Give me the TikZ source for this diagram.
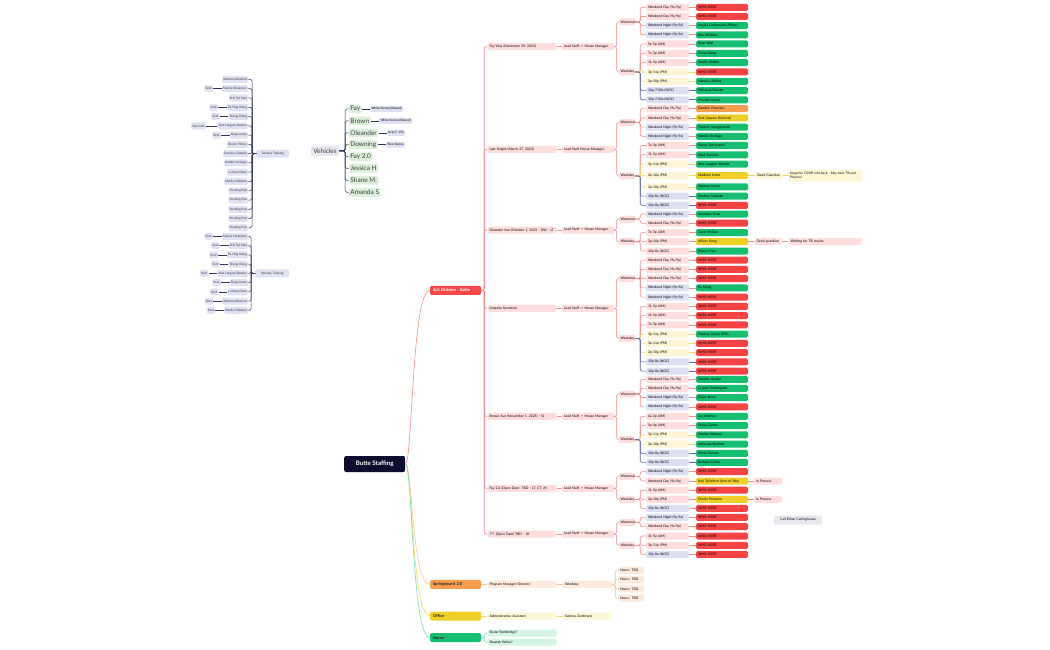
\documentclass[tikz,border=0pt]{standalone}
\usepackage{fontspec}
\setmainfont{Lato}
\usetikzlibrary{positioning}

\definecolor{navy}{RGB}{13,12,46}
\definecolor{slsred}{RGB}{242,72,72}
\definecolor{whored}{RGB}{246,68,68}
\definecolor{hiregreen}{RGB}{22,190,112}
\definecolor{gold}{RGB}{240,208,40}
\definecolor{orng}{RGB}{246,158,78}
\definecolor{pinkl}{RGB}{255,221,221}
\definecolor{lavl}{RGB}{221,223,243}
\definecolor{yell}{RGB}{255,246,214}
\definecolor{orgl}{RGB}{253,234,220}
\definecolor{grnl}{RGB}{212,244,228}
\definecolor{grayl}{RGB}{232,232,240}
\definecolor{lavt}{RGB}{224,225,242}
\definecolor{vgreen}{RGB}{218,240,218}
\definecolor{redline}{RGB}{245,140,140}
\definecolor{yelline}{RGB}{246,216,100}
\definecolor{nocline}{RGB}{96,100,170}
\definecolor{orgline}{RGB}{248,196,150}
\definecolor{grnline}{RGB}{120,220,170}
\definecolor{inkline}{RGB}{50,50,90}

\tikzset{
  tiny/.style={font=\fontsize{3.4}{4}\selectfont, inner xsep=2pt, inner ysep=0pt,
    minimum height=7pt, rounded corners=1.5pt, align=left},
  site/.style={tiny, fill=pinkl, text width=65pt},
  lead/.style={tiny, fill=pinkl, text width=48pt},
  wk/.style={tiny, fill=pinkl, text width=13pt, inner xsep=1.5pt},
  am/.style={tiny, fill=pinkl, text width=39pt},
  pm/.style={tiny, fill=yell, text width=39pt},
  noc/.style={tiny, fill=lavl, text width=39pt},
  who/.style={tiny, fill=whored, text width=48pt},
  hired/.style={tiny, fill=hiregreen, text width=48pt},
  maybe/.style={tiny, fill=gold, text width=48pt},
  offer/.style={tiny, fill=orng, text width=48pt},
  link/.style={draw=#1, line width=0.6pt, rounded corners=1.5pt},
  root/.style={fill=navy, text=white, font=\fontsize{6.2}{7}\selectfont\bfseries,
    minimum width=61pt, minimum height=16pt, rounded corners=2pt},
  branch/.style={font=\fontsize{4.1}{5}\selectfont\bfseries, text width=45pt,
    inner xsep=3pt, inner ysep=0pt, minimum height=9pt, rounded corners=1.5pt, align=left},
  trbox/.style={font=\fontsize{3.1}{3.6}\selectfont, fill=lavt, text=black!80,
    inner xsep=1.2pt, inner ysep=0pt, minimum height=7pt, rounded corners=1.5pt},
  car/.style={font=\fontsize{6.5}{7.5}\selectfont, fill=vgreen, text=black!75,
    inner xsep=1.5pt, inner ysep=0pt, minimum height=8.5pt, rounded corners=1.5pt},
  cartag/.style={font=\fontsize{3.1}{3.6}\selectfont, fill=lavt, inner xsep=1.5pt,
    inner ysep=0pt, minimum height=6pt, rounded corners=1.5pt}
}

% one shift: id, y, shift style, line colour, shift, person style, person, parent
\newcommand{\shiftrow}[8]{%
  \node[#3] (s#1) at (667.5,#2) {#5};
  \node[#6] (p#1) at (722,#2) {#7};
  \draw[link=#4] (#8.east) -- ++(5,0) |- (s#1.west);
  \draw[link=#4] (s#1.east) -- (p#1.west);
}

\begin{document}
\begin{tikzpicture}[x=1pt, y=-1pt]
\fill[white] (0,0) rectangle (1050,650);
\useasboundingbox (0,0) rectangle (1050,650);

% vehicles
\node[car, fill=grayl, minimum width=28pt, minimum height=10pt] (veh) at (325,151) {Vehicles};
\foreach \t [count=\i] in {Fay,Brown,Oleander,Downing,Fay 2.0,Jessica H,Shane M.,Amanda S} {
  \node[car, anchor=west] (car\i) at (348.7,{97.1+11.9*\i}) {\t};
  \draw[link=inkline, line width=0.5pt] (veh.east) -- ++(6,0) |- (car\i.west);
}
\foreach \i/\t in {1/White Sienna (Shared), 2/White Sienna (Shared), 3/Gray F-150, 4/Blue Sienna} {
  \node[cartag, right=8pt of car\i] (car\i-tag) {\t};
  \draw[link=inkline, line width=0.5pt] (car\i) -- (car\i-tag);
}

% tuesday training
\node[trbox, minimum width=33pt, minimum height=8pt] (tue) at (272.7,153.7) {Tuesday Training};
\foreach \y/\t [count=\i] in {79.3/Adrienna Basford, 88.7/Markie Nickerson, 98/Erik Tat Mau,
  107.3/Pa Ying Xiong, 116.6/Sheng Xiong, 125.9/Alex Longcor Boothe, 135.1/Dasja Jones,
  144.4/Nicole Hinton, 153.7/Destiny Gallardo, 162.9/Natalie Verdugo, 172.2/La Kesa Dean,
  181.5/Marilyn Watson, 190.8/Pending Pals, 200/Pending Pals, 209.3/Pending Pals,
  218.6/Pending Pals, 227.8/Pending Pals} {
  \node[trbox, anchor=east] (tue\i) at (248.3,\y) {\t};
  \draw[link=inkline, line width=0.5pt] (tue.west) -- ++(-4,0) |- (tue\i.east);
}
\foreach \i in {2,4,5,7} {
  \node[trbox, left=8.5pt of tue\i] (tue\i-sent) {Sent};
  \draw[link=inkline, line width=0.5pt] (tue\i.west) -- (tue\i-sent.east);
}
\node[trbox, left=11pt of tue6] (tue6-sent) {Sent Info};
\draw[link=inkline, line width=0.5pt] (tue6.west) -- (tue6-sent.east);

% monday training
\node[trbox, minimum width=34pt, minimum height=8pt] (mon) at (272.2,273.3) {Monday Training};
\foreach \y/\t [count=\i] in {236.3/Markie Nickerson, 245.6/Erik Tat Mau, 254.9/Pa Ying Xiong,
  264.2/Sheng Xiong, 273.4/Alex Longcor Boothe, 282.7/Dasja Jones, 291.9/La Kesa Dean,
  301.1/Adrienna Basford, 310.3/Marilyn Watson} {
  \node[trbox, anchor=east] (mon\i) at (248.3,\y) {\t};
  \node[trbox, left=8.5pt of mon\i] (mon\i-sent) {Sent};
  \draw[link=inkline, line width=0.5pt] (mon.west) -- ++(-4,0) |- (mon\i.east);
  \draw[link=inkline, line width=0.5pt] (mon\i.west) -- (mon\i-sent.east);
}

% root and main branches
\node[root] (butte) at (374.7,464) {Butte Staffing};
\node[branch, fill=slsred, text=white] (sls) at (455.5,290.3) {SLS Division - Butte};
\node[branch, fill=orng, text=black!85] (spring) at (455.5,584.3) {Springboard 2.0};
\node[branch, fill=gold, text=black!85] (office) at (455.5,616) {Office};
\node[branch, fill=hiregreen, text=black!85] (nurse) at (455.5,637.7) {Nurse};
\draw[link=redline] (butte.east) .. controls +(7,0) and +(-18,0) .. (sls.west);
\draw[link=orgline] (butte.east) .. controls +(7,0) and +(-18,0) .. (spring.west);
\draw[link=yelline] (butte.east) .. controls +(7,0) and +(-18,0) .. (office.west);
\draw[link=grnline] (butte.east) .. controls +(7,0) and +(-18,0) .. (nurse.west);

% houses
\foreach \s/\y/\ye/\yd/\t/\l in {
  fw/46.7/22/72/{Fay Way (November 29, 2023)}/{Lead Staff -> House Manager},
  lk/149.3/122.7/176/{Last Knight (March 27, 2024)}/{Lead Staff House Manager},
  ol/230/219/241.7/{Oleander Ave (October 1, 2025 - DW - LT}/{Lead Staff -> House Manager},
  sun/308.3/278.3/338.3/{Amanda Sundown}/{Lead Staff -> House Manager},
  br/416.3/394/439.7/{Brown Ave (November 1, 2025) - SL}/{Lead Staff -> House Manager},
  ft/488.3/476.3/499.3/{Fay 2.0 (Open Date: TBD - LT, CT, JH}/{Lead Staff -> House Manager},
  tbd/534/522.3/545.3/{??? (Open Date) TBD - JH}/{Lead Staff -> House Manager}} {
  \node[site] (\s) at (522,\y) {\t};
  \node[lead] (\s-lead) at (588,\y) {\l};
  \node[wk] (\s-we) at (627,\ye) {Weekend};
  \node[wk] (\s-wd) at (627,\yd) {Weekday};
  \draw[link=redline] (sls.east) -- ++(3,0) |- (\s.west);
  \draw[link=redline] (\s) -- (\s-lead);
  \draw[link=redline] (\s-lead.east) -- ++(2.5,0) |- (\s-we.west);
  \draw[link=redline] (\s-lead.east) -- ++(2.5,0) |- (\s-wd.west);
}

% Fay Way
\shiftrow{fw1}{7.3}{am}{redline}{Weekend Day (9a-9p)}{who}{WHO HERE}{fw-we}
\shiftrow{fw2}{16.5}{am}{redline}{Weekend Day (9a-9p)}{who}{WHO HERE}{fw-we}
\shiftrow{fw3}{25.6}{noc}{redline}{Weekend Night (9p-9a)}{hired}{Angela Lindemann (Pillow)}{fw-we}
\shiftrow{fw4}{34.8}{noc}{redline}{Weekend Night (9p-9a)}{hired}{Ron Williams}{fw-we}
\shiftrow{fw5}{44}{am}{redline}{9a-5p (AM)}{hired}{Ryan Wall}{fw-wd}
\shiftrow{fw6}{53.3}{am}{redline}{7a-3p (AM)}{hired}{China Xiong}{fw-wd}
\shiftrow{fw7}{62.6}{am}{redline}{11-5p (AM)}{hired}{Noelia Hinton}{fw-wd}
\shiftrow{fw8}{72}{pm}{yelline}{3p-11p (PM)}{who}{WHO HERE}{fw-wd}
\shiftrow{fw9}{81.3}{pm}{yelline}{2p-10p (PM)}{hired}{Natasha Adkins}{fw-wd}
\shiftrow{fw10}{90.6}{noc}{nocline}{10p-7:30a (NOC)}{hired}{Michaela Boothe}{fw-wd}
\shiftrow{fw11}{99.8}{noc}{nocline}{10p-7:30a (NOC)}{hired}{Priscilla Nunez}{fw-wd}

% Last Knight
\shiftrow{lk1}{108.7}{am}{redline}{Weekend Day (9a-9p)}{offer}{Danielle Petersen}{lk-we}
\shiftrow{lk2}{118}{am}{redline}{Weekend Day (9a-9p)}{maybe}{Soni (Joanna Referral)}{lk-we}
\shiftrow{lk3}{127.2}{noc}{redline}{Weekend Night (9p-9a)}{hired}{Phoenix Stoegerwald}{lk-we}
\shiftrow{lk4}{136.3}{noc}{redline}{Weekend Night (9p-9a)}{hired}{Natalie Verdugo}{lk-we}
\shiftrow{lk5}{145.5}{am}{redline}{7a-3p (AM)}{hired}{Sheng Vatchuama}{lk-wd}
\shiftrow{lk6}{154.8}{am}{redline}{11-5p (AM)}{hired}{Madi Sammer}{lk-wd}
\shiftrow{lk7}{164.2}{pm}{yelline}{3p-11p (PM)}{hired}{Alex Longcor-Boothe}{lk-wd}
\shiftrow{lk8}{175.7}{pm}{yelline}{2p-10p (PM)}{maybe}{Madison Irvine}{lk-wd}
\shiftrow{lk9}{187}{pm}{yelline}{2p-10p (PM)}{hired}{Shamay Levine}{lk-wd}
\shiftrow{lk10}{196.2}{noc}{nocline}{10p-8a (NOC)}{hired}{Destiny Gallardo}{lk-wd}
\shiftrow{lk11}{205.4}{noc}{nocline}{10p-8a (NOC)}{who}{WHO HERE}{lk-wd}
\node[tiny, fill=yell, text width=23pt] (lk8-gg) at (768.5,175.7) {Good Guardian};
\node[tiny, fill=yell, text width=70pt, inner xsep=1.5pt, minimum height=12pt,
  font=\fontsize{3.2}{3.9}\selectfont] (lk8-note) at (825.2,175.7)
  {Negative COMP info back - May have TB and\\Physical};
\draw[link=yelline] (plk8.east) -- (lk8-gg.west);
\draw[link=yelline] (lk8-gg.east) -- (lk8-note.west);

% Oleander
\shiftrow{ol1}{214}{noc}{redline}{Weekend Night (9p-9a)}{hired}{Jonathan Thao}{ol-we}
\shiftrow{ol2}{223.2}{am}{redline}{Weekend Day (9a-9p)}{who}{WHO HERE}{ol-we}
\shiftrow{ol3}{232.6}{am}{redline}{7a-3p (AM)}{hired}{Jason McGee}{ol-wd}
\shiftrow{ol4}{241.7}{am}{redline}{2p-10p (PM)}{maybe}{Allison Kong}{ol-wd}
\shiftrow{ol5}{251}{am}{redline}{10p-8a (NOC)}{hired}{Mason Hsiu}{ol-wd}
\node[tiny, fill=pinkl, text width=23pt] (ol4-gg) at (768,241.7) {Good guardian};
\node[tiny, fill=pinkl, text width=69pt] (ol4-note) at (825,241.7) {Waiting for TB results};
\draw[link=redline] (pol4.east) -- (ol4-gg.west);
\draw[link=redline] (ol4-gg.east) -- (ol4-note.west);

% Amanda Sundown
\shiftrow{sun1}{260.1}{am}{redline}{Weekend Day (9a-9p)}{who}{WHO HERE}{sun-we}
\shiftrow{sun2}{269.4}{am}{redline}{Weekend Day (9a-9p)}{who}{WHO HERE}{sun-we}
\shiftrow{sun3}{278.6}{am}{redline}{Weekend Day (9a-9p)}{who}{WHO HERE}{sun-we}
\shiftrow{sun4}{287.9}{noc}{redline}{Weekend Night (9p-9a)}{hired}{Pa Xiong}{sun-we}
\shiftrow{sun5}{297.1}{noc}{redline}{Weekend Night (9p-9a)}{who}{WHO HERE}{sun-we}
\shiftrow{sun6}{306.4}{am}{redline}{11-5p (AM)}{who}{WHO HERE}{sun-wd}
\shiftrow{sun7}{315.6}{am}{redline}{11-5p (AM)}{who}{WHO HERE}{sun-wd}
\shiftrow{sun8}{324.9}{am}{redline}{7a-3p (AM)}{who}{WHO HERE}{sun-wd}
\shiftrow{sun9}{334.1}{pm}{yelline}{3p-11p (PM)}{hired}{Shamay Levine (PM)}{sun-wd}
\shiftrow{sun10}{343.4}{pm}{yelline}{3p-11p (PM)}{who}{WHO HERE}{sun-wd}
\shiftrow{sun11}{352.6}{pm}{yelline}{2p-10p (PM)}{who}{WHO HERE}{sun-wd}
\shiftrow{sun12}{361.9}{noc}{nocline}{10p-8a (NOC)}{who}{WHO HERE}{sun-wd}
\shiftrow{sun13}{371.1}{noc}{nocline}{10p-8a (NOC)}{who}{WHO HERE}{sun-wd}

% Brown Ave
\shiftrow{br1}{379.3}{am}{redline}{Weekend Day (9a-9p)}{hired}{Cherish Hunter}{br-we}
\shiftrow{br2}{388.4}{am}{redline}{Weekend Day (9a-9p)}{hired}{Crystal Pendergraft}{br-we}
\shiftrow{br3}{397.5}{noc}{redline}{Weekend Night (9p-9a)}{hired}{Dasja Jones}{br-we}
\shiftrow{br4}{406.8}{noc}{redline}{Weekend Night (9p-9a)}{who}{WHO HERE}{br-we}
\shiftrow{br5}{416.3}{am}{redline}{6a-2p (AM)}{hired}{Jay Jimenez}{br-wd}
\shiftrow{br6}{425.6}{am}{redline}{5a-4p (AM)}{hired}{Skylar Garber}{br-wd}
\shiftrow{br7}{434.9}{pm}{yelline}{3p-11p (PM)}{hired}{Marilyn Watson}{br-wd}
\shiftrow{br8}{444.1}{pm}{yelline}{2p-10p (PM)}{hired}{Adrienna Basford}{br-wd}
\shiftrow{br9}{453.3}{noc}{nocline}{10p-8a (NOC)}{hired}{Maria Parham}{br-wd}
\shiftrow{br10}{462.4}{noc}{nocline}{10p-8a (NOC)}{hired}{Barbara Carlos}{br-wd}

% Fay 2.0
\shiftrow{ft1}{471.7}{noc}{redline}{Weekend Night (9p-9a)}{who}{WHO HERE}{ft-we}
\shiftrow{ft2}{481}{am}{redline}{Weekend Day (9a-9p)}{maybe}{Karl Taliaferro (Lots of Site)}{ft-we}
\shiftrow{ft3}{490.2}{am}{redline}{11-5p (AM)}{who}{WHO HERE}{ft-wd}
\shiftrow{ft4}{499.3}{am}{redline}{2p-10p (PM)}{maybe}{Dustin Peconen}{ft-wd}
\shiftrow{ft5}{508.4}{noc}{redline}{10p-8a (NOC)}{who}{WHO HERE}{ft-wd}
\node[tiny, fill=pinkl, text width=24pt] (ft2-ip) at (768,481) {In Process};
\node[tiny, fill=pinkl, text width=24pt] (ft4-ip) at (768,499.3) {In Process};
\draw[link=redline] (pft2.east) -- (ft2-ip.west);
\draw[link=redline] (pft4.east) -- (ft4-ip.west);

% ??? house
\shiftrow{tbd1}{517.4}{noc}{redline}{Weekend Night (9p-9a)}{who}{WHO HERE}{tbd-we}
\shiftrow{tbd2}{526.6}{am}{redline}{Weekend Day (9a-9p)}{who}{WHO HERE}{tbd-we}
\shiftrow{tbd3}{536}{am}{redline}{11-5p (AM)}{who}{WHO HERE}{tbd-wd}
\shiftrow{tbd4}{545.3}{am}{redline}{3p-11p (PM)}{who}{WHO HERE}{tbd-wd}
\shiftrow{tbd5}{554.4}{noc}{redline}{10p-8a (NOC)}{who}{WHO HERE}{tbd-wd}

\node[tiny, fill=grayl, text width=44pt, align=center, minimum height=9pt] (call) at (798,520)
  {Call Ethan Carlinghouse};

% springboard, office, nurse
\node[tiny, fill=orgl, text width=65pt] (pmd) at (522,584.3) {Program Manager/Director};
\node[tiny, fill=orgl, text width=45pt] (sb-wd) at (587.5,584.3) {Weekday};
\draw[link=orgline] (spring) -- (pmd);
\draw[link=orgline] (pmd) -- (sb-wd);
\foreach \y [count=\i] in {570.3,579.6,588.9,598.2} {
  \node[tiny, fill=orgl, text width=22pt] (hrs\i) at (631,\y) {Hours: TBD};
  \draw[link=orgline] (sb-wd.east) -- ++(3,0) |- (hrs\i.west);
}
\node[tiny, fill=yell, text width=65pt] (admin) at (522,616) {Administrative Assistant};
\node[tiny, fill=yell, text width=45pt] (sabrina) at (587.5,616) {Sabrina Zambrano};
\draw[link=yelline] (office) -- (admin);
\draw[link=yelline] (admin) -- (sabrina);
\node[tiny, fill=grnl, text width=65pt] (nurse1) at (522,633) {Skylar Bembridge?};
\node[tiny, fill=grnl, text width=65pt] (nurse2) at (522,642.2) {Shaelah Weiss?};
\draw[link=grnline] (nurse.east) -- ++(3.5,0) |- (nurse1.west);
\draw[link=grnline] (nurse.east) -- ++(3.5,0) |- (nurse2.west);
\end{tikzpicture}
\end{document}
